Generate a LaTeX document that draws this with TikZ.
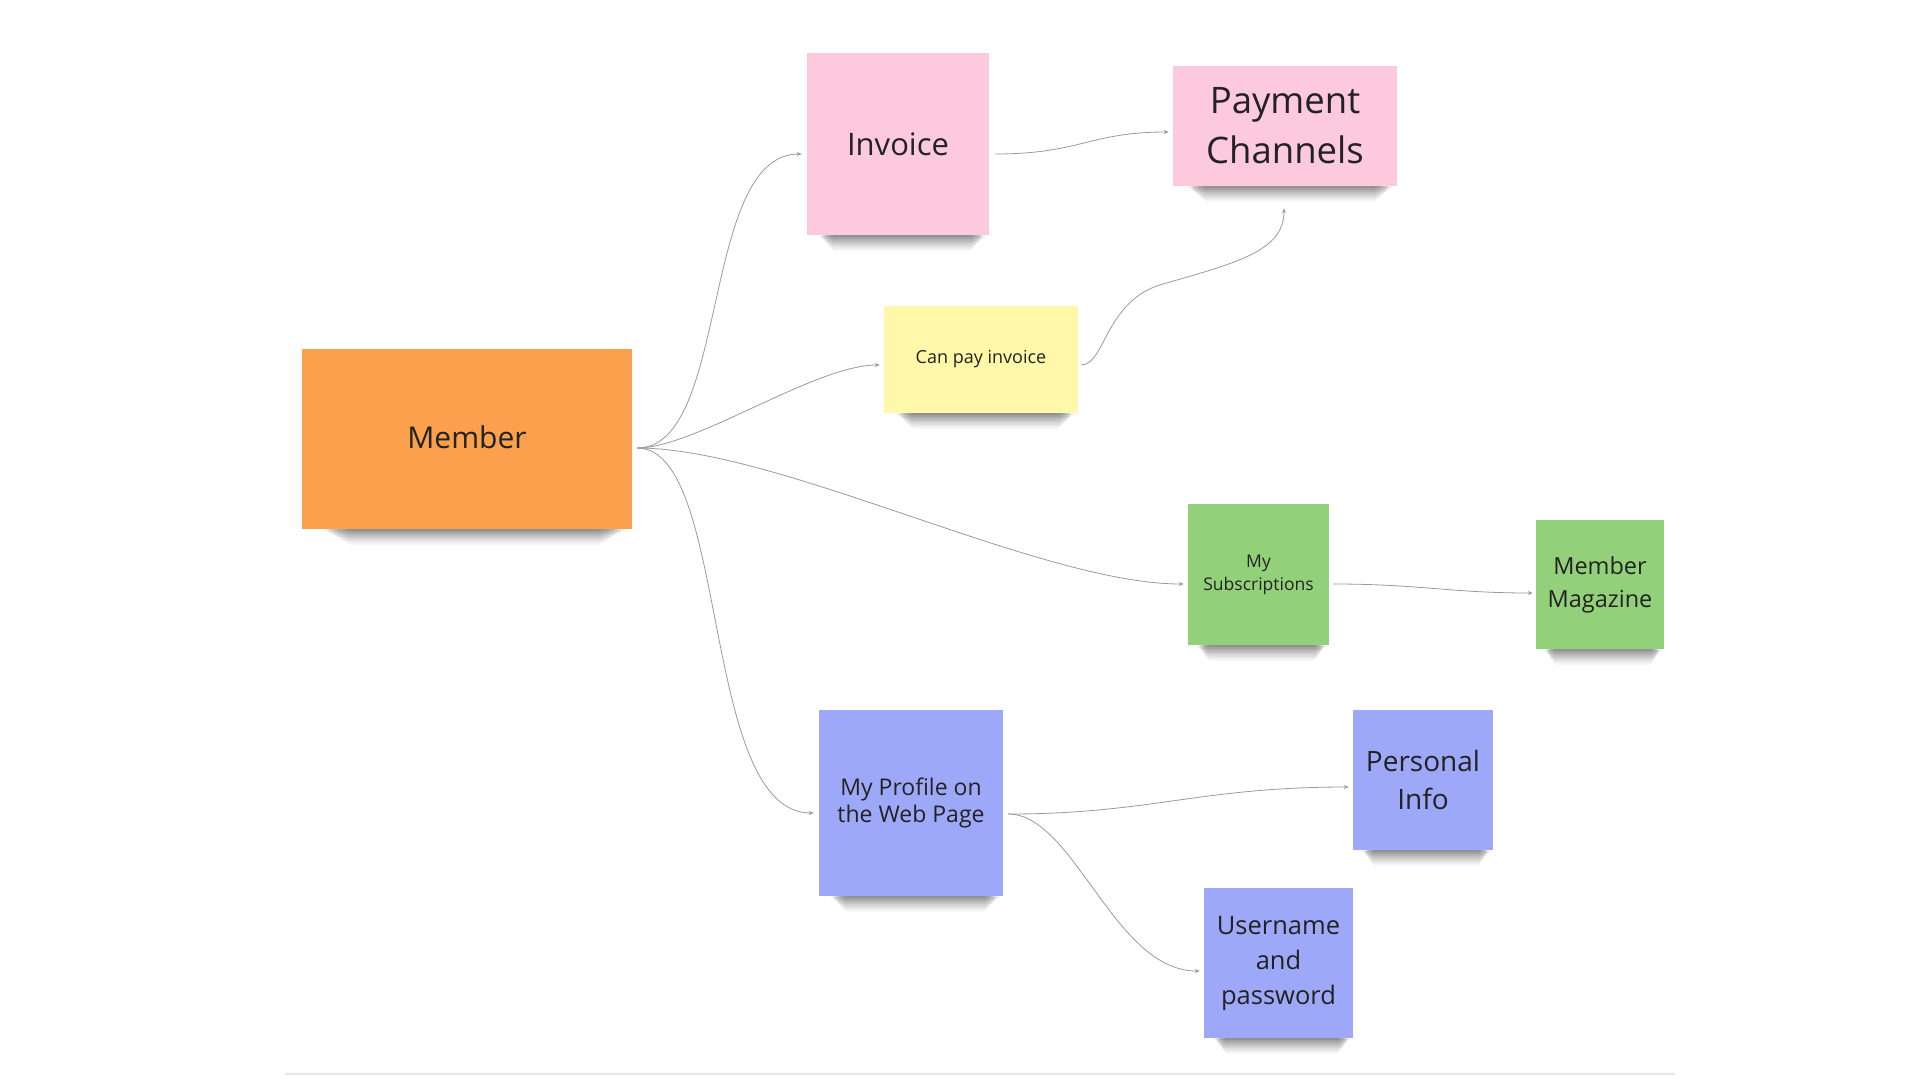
\documentclass[tikz,border=0pt]{standalone}
\usepackage{fontspec}
\setmainfont{Open Sans}
\usetikzlibrary{calc,arrows.meta}
\definecolor{cOrange}{HTML}{FBA04C}
\definecolor{cPink}{HTML}{FDCADD}
\definecolor{cYellow}{HTML}{FFF8A8}
\definecolor{cGreen}{HTML}{92D07A}
\definecolor{cBlue}{HTML}{9DA9F8}
\definecolor{cLine}{HTML}{9A9A9A}
\definecolor{cText}{HTML}{222222}
\definecolor{cRule}{HTML}{E6E6E6}
\newcommand{\mynoteshadow}[1]{%
  \foreach \k/\op/\a/\b in {2/0.10/0.07/0.975, 4/0.09/0.08/0.965, 6/0.08/0.09/0.955, 8/0.07/0.10/0.945,
                            10/0.06/0.11/0.935, 12/0.05/0.12/0.925, 14/0.04/0.13/0.915, 16/0.03/0.14/0.905}{%
    \fill[shadowlayer, opacity=\op] ($(#1.south west)!\a!(#1.south east)$) rectangle ($(#1.south west)!\b!(#1.south east)+(0,\k)$);
  }}
\begin{document}
\begin{tikzpicture}[x=1pt,y=-1pt,
  shadowlayer/.style={fill=black, rounded corners=3pt},
  note/.style={rectangle, inner sep=0pt, align=center, text=cText, draw=none},
  conn/.style={draw=cLine, line width=0.8pt, -{Stealth[length=5pt,width=4pt]}},
  fs/.style 2 args={font=\fontsize{#1}{#2}\selectfont},
]
\useasboundingbox (0,0) rectangle (1920,1080);
\fill[white] (0,0) rectangle (1920,1080);

% notes
\node[note, fill=cOrange, minimum width=330pt, minimum height=180pt, fs={30}{41}] (member) at (467,439) {\raisebox{4pt}{Member}};
\node[note, fill=cPink, minimum width=182pt, minimum height=182pt, fs={31}{42}] (invoice) at (898,144) {Invoice};
\node[note, fill=cPink, minimum width=224pt, minimum height=120pt, fs={36.5}{50}] (payment) at (1285,126) {Payment\\Channels};
\node[note, fill=cYellow, minimum width=194pt, minimum height=107pt, fs={18}{24}] (canpay) at (981,359.5) {Can pay invoice};
\node[note, fill=cGreen, minimum width=141pt, minimum height=141pt, fs={17.5}{23}] (subs) at (1258.5,574.5) {My\\Subscriptions};
\node[note, fill=cGreen, minimum width=128pt, minimum height=129pt, fs={23.5}{33}] (magazine) at (1600,584.5) {Member\\Magazine};
\node[note, fill=cBlue, minimum width=184pt, minimum height=186pt, fs={23}{27}] (profile) at (911,803) {My Profile on\\the Web Page};
\node[note, fill=cBlue, minimum width=140pt, minimum height=140pt, fs={28}{38}] (personal) at (1423,780) {Personal\\Info};
\node[note, fill=cBlue, minimum width=149pt, minimum height=150pt, fs={25.5}{35}] (username) at (1278.5,963) {Username\\and\\password};

% shadows
\mynoteshadow{member}
\mynoteshadow{invoice}
\mynoteshadow{payment}
\mynoteshadow{canpay}
\mynoteshadow{subs}
\mynoteshadow{magazine}
\mynoteshadow{profile}
\mynoteshadow{personal}
\mynoteshadow{username}

% connectors
\draw[conn] ($(member.east)+(5,9)$) .. controls +(93,0) and +(-102,0) .. ($(invoice.west)+(-5,10)$);
\draw[conn] ($(member.east)+(5,9)$) .. controls +(58,0) and +(-65,0) .. ($(canpay.west)+(-4,5.5)$);
\draw[conn] ($(member.east)+(5,9)$) .. controls +(143,0) and +(-144,0) .. ($(subs.west)+(-4,9.5)$);
\draw[conn] ($(member.east)+(5,9)$) .. controls +(93,0) and +(-114,0) .. ($(profile.west)+(-5,10)$);
\draw[conn] ($(invoice.east)+(6,10)$) .. controls +(85,0) and +(-79,0) .. ($(payment.west)+(-4,6)$);
\coordinate (cpbend) at (1163,284);
\draw[conn] ($(canpay.east)+(3,5.5)$) .. controls +(24,0) and +(-58,16) .. (cpbend)
  .. controls +(77,-22) and +(0,42) .. ($(payment.south)+(-1,22)$);
\draw[conn] ($(subs.east)+(4,9.5)$) .. controls +(87,0) and +(-83,0) .. ($(magazine.west)+(-3,8.5)$);
\draw[conn] ($(profile.east)+(5,11)$) .. controls +(142,0) and +(-149,0) .. ($(personal.west)+(-4,7)$);
\draw[conn] ($(profile.east)+(5,11)$) .. controls +(66,0) and +(-86,0) .. ($(username.west)+(-4,8)$);

% bottom rule
\draw[cRule, line width=1.2pt] (285,1074) -- (1675,1074);
\end{tikzpicture}
\end{document}
